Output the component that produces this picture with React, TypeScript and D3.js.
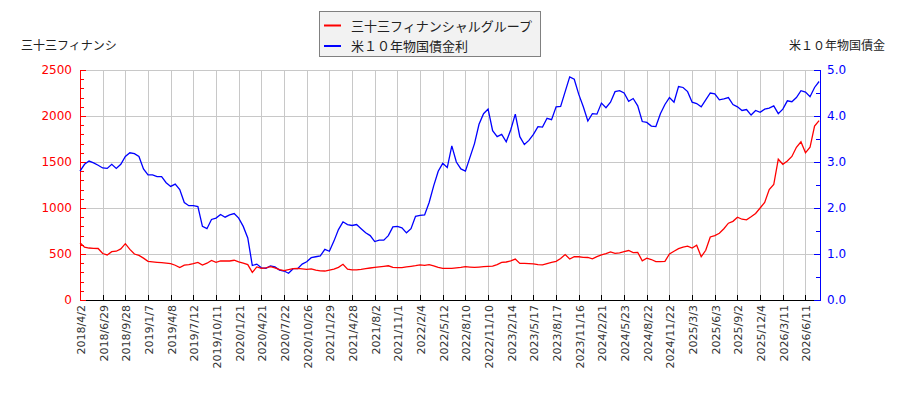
import { useEffect, useRef } from "react"
import * as d3 from "d3"

// x-axis tick labels, one every 5 samples
const tickLabels = [
  "2018/4/2", "2018/6/29", "2018/9/28", "2019/1/7", "2019/4/8", "2019/7/12",
  "2019/10/11", "2020/1/21", "2020/4/21", "2020/7/22", "2020/10/26", "2021/1/29",
  "2021/4/28", "2021/8/2", "2021/11/1", "2022/2/4", "2022/5/12", "2022/8/10",
  "2022/11/10", "2023/2/14", "2023/5/17", "2023/8/17", "2023/11/16", "2024/2/21",
  "2024/5/23", "2024/8/22", "2024/11/22", "2025/3/3", "2025/6/3", "2025/9/2",
  "2025/12/4", "2026/3/11", "2026/6/11",
]

// 三十三フィナンシャルグループ (left axis, yen)
const stockPrice = [
  623, 575, 565, 562, 560, 505, 490, 525, 530, 555,
  612, 550, 500, 485, 455, 420, 415, 410, 406, 400,
  395, 378, 352, 378, 385, 395, 408, 380, 400, 430,
  410, 425, 424, 424, 432, 415, 400, 385, 300, 360,
  345, 350, 362, 350, 330, 320, 330, 340, 344, 338,
  333, 338, 325, 316, 315, 325, 335, 355, 388, 335,
  328, 328, 333, 340, 348, 355, 360, 366, 372, 355,
  351, 352, 360, 366, 373, 382, 377, 385, 372, 355,
  344, 344, 344, 350, 355, 362, 358, 355, 358, 362,
  365, 368, 385, 408, 413, 425, 445, 398, 398, 395,
  392, 385, 382, 396, 408, 420, 450, 494, 446, 470,
  470, 464, 462, 448, 472, 490, 505, 522, 507, 512,
  525, 538, 515, 518, 425, 455, 440, 417, 417, 420,
  500, 530, 558, 575, 585, 565, 595, 470, 540, 685,
  700, 725, 775, 835, 855, 900, 878, 872, 905, 940,
  1000, 1060, 1200, 1255, 1530, 1475, 1510, 1560, 1660, 1720,
  1600, 1660, 1890, 1950,
]

// 米10年物国債金利 (right axis, %)
const bondYield = [
  2.80, 2.95, 3.02, 2.98, 2.93, 2.87, 2.86, 2.95, 2.86, 2.95,
  3.12, 3.20, 3.18, 3.12, 2.85, 2.72, 2.72, 2.68, 2.68, 2.55,
  2.47, 2.52, 2.40, 2.12, 2.05, 2.05, 2.03, 1.60, 1.55, 1.75,
  1.78, 1.86, 1.80, 1.85, 1.88, 1.78, 1.60, 1.35, 0.75, 0.78,
  0.70, 0.69, 0.74, 0.72, 0.65, 0.63, 0.58, 0.68, 0.68, 0.78,
  0.83, 0.92, 0.94, 0.96, 1.10, 1.06, 1.28, 1.53, 1.70, 1.64,
  1.62, 1.64, 1.55, 1.46, 1.40, 1.27, 1.30, 1.30, 1.40, 1.59,
  1.60, 1.57, 1.46, 1.55, 1.82, 1.84, 1.85, 2.12, 2.48, 2.80,
  2.97, 2.88, 3.35, 3.00, 2.85, 2.80, 3.10, 3.40, 3.82, 4.05,
  4.15, 3.68, 3.55, 3.60, 3.44, 3.70, 4.04, 3.55, 3.38, 3.47,
  3.60, 3.77, 3.76, 3.95, 3.92, 4.20, 4.21, 4.53, 4.85, 4.80,
  4.47, 4.20, 3.89, 4.05, 4.04, 4.28, 4.18, 4.30, 4.53, 4.55,
  4.50, 4.32, 4.38, 4.22, 3.88, 3.86, 3.78, 3.77, 4.05, 4.25,
  4.40, 4.30, 4.64, 4.62, 4.53, 4.30, 4.27, 4.20, 4.35, 4.50,
  4.48, 4.35, 4.37, 4.40, 4.25, 4.20, 4.12, 4.14, 4.02, 4.12,
  4.08, 4.15, 4.17, 4.22, 4.05, 4.15, 4.33, 4.31, 4.40, 4.55,
  4.52, 4.42, 4.62, 4.75,
]

const leftTicks = [0, 500, 1000, 1500, 2000, 2500]
const rightTicks = [0, 1, 2, 3, 4, 5]

const stockName = "三十三フィナンシャルグループ"
const bondName = "米１０年物国債金利"
const leftTitle = "三十三フィナンシ"
const rightTitle = "米１０年物国債金"

const STEP = 5
const JP = "'Noto Sans CJK JP', 'DejaVu Sans', sans-serif"
const NUM = "'DejaVu Sans', sans-serif"

export default function App() {
  const svgRef = useRef<SVGSVGElement>(null)

  useEffect(() => {
    if (!svgRef.current) return
    const svg = d3.select(svgRef.current)
    svg.selectAll("*").remove()

    const left = 80, right = 820, top = 70, bottom = 300

    const x = d3.scaleLinear().domain([0, 163.2]).range([left, right])
    const yL = d3.scaleLinear().domain([0, 2500]).range([bottom, top])
    const yR = d3.scaleLinear().domain([0, 5]).range([bottom, top])

    const g = svg.append("g").attr("shape-rendering", "crispEdges")

    // grid
    tickLabels.forEach((_, i) => {
      const xx = Math.round(x(i * STEP)) + 0.5
      g.append("line").attr("x1", xx).attr("x2", xx).attr("y1", top).attr("y2", bottom)
        .attr("stroke", "#c8c8c8")
    })
    leftTicks.forEach((v) => {
      const yy = Math.round(yL(v)) + 0.5
      g.append("line").attr("x1", left).attr("x2", right).attr("y1", yy).attr("y2", yy)
        .attr("stroke", "#c8c8c8")
    })

    // lines
    const lineL = d3.line<number>().x((_, i) => x(i)).y((d) => yL(d))
    const lineR = d3.line<number>().x((_, i) => x(i)).y((d) => yR(d))
    svg.append("path").attr("d", lineR(bondYield)).attr("fill", "none")
      .attr("stroke", "#0000ff").attr("stroke-width", 1.3)
    svg.append("path").attr("d", lineL(stockPrice)).attr("fill", "none")
      .attr("stroke", "#ff0000").attr("stroke-width", 1.3)

    // bottom axis
    g.append("line").attr("x1", left).attr("x2", right).attr("y1", bottom + 0.5).attr("y2", bottom + 0.5)
      .attr("stroke", "#000")
    tickLabels.forEach((lab, i) => {
      const xx = Math.round(x(i * STEP)) + 0.5
      g.append("line").attr("x1", xx).attr("x2", xx).attr("y1", bottom - 5).attr("y2", bottom)
        .attr("stroke", "#000")
      svg.append("text")
        .attr("transform", `translate(${xx + 4},${bottom + 5}) rotate(-90)`)
        .attr("text-anchor", "end")
        .attr("font-family", NUM)
        .attr("font-size", 11)
        .attr("fill", "#333")
        .text(lab)
    })

    // left axis
    g.append("line").attr("x1", left + 0.5).attr("x2", left + 0.5).attr("y1", top).attr("y2", bottom + 1)
      .attr("stroke", "#ff0000")
    d3.range(0, 2501, 100).forEach((v) => {
      const yy = Math.round(yL(v)) + 0.5
      const major = v % 500 === 0
      g.append("line").attr("x1", left).attr("x2", left + (major ? 6 : 4)).attr("y1", yy).attr("y2", yy)
        .attr("stroke", "#ff0000")
    })
    leftTicks.forEach((v) => {
      svg.append("text").attr("x", left - 8).attr("y", yL(v) + 4)
        .attr("text-anchor", "end").attr("font-family", NUM).attr("font-size", 12)
        .attr("fill", "#ff0000").text(v)
    })

    // right axis
    g.append("line").attr("x1", right + 0.5).attr("x2", right + 0.5).attr("y1", top).attr("y2", bottom + 1)
      .attr("stroke", "#0000ff")
    d3.range(0, 5.01, 0.5).forEach((v) => {
      const yy = Math.round(yR(v)) + 0.5
      const major = Math.abs(v - Math.round(v)) < 1e-6
      g.append("line").attr("x1", right - (major ? 6 : 4)).attr("x2", right).attr("y1", yy).attr("y2", yy)
        .attr("stroke", "#0000ff")
    })
    rightTicks.forEach((v) => {
      svg.append("text").attr("x", right + 7).attr("y", yR(v) + 4)
        .attr("font-family", NUM).attr("font-size", 12)
        .attr("fill", "#0000ff").text(v.toFixed(1))
    })

    // axis titles
    svg.append("text").attr("x", 21).attr("y", 50).attr("font-family", JP).attr("font-size", 12)
      .attr("fill", "#222").text(leftTitle)
    svg.append("text").attr("x", 885).attr("y", 50).attr("text-anchor", "end")
      .attr("font-family", JP).attr("font-size", 12).attr("fill", "#222").text(rightTitle)

    // legend
    const lg = svg.append("g")
    lg.append("rect").attr("x", 319.5).attr("y", 11.5).attr("width", 221).attr("height", 45)
      .attr("fill", "#f2f2f2").attr("stroke", "#808080")
    const entries = [
      { name: stockName, color: "#ff0000" },
      { name: bondName, color: "#0000ff" },
    ]
    entries.forEach((e, i) => {
      const yy = 25.5 + i * 20.5
      lg.append("line").attr("x1", 324).attr("x2", 341).attr("y1", yy).attr("y2", yy)
        .attr("stroke", e.color).attr("stroke-width", 2)
      lg.append("text").attr("x", 351).attr("y", yy + 5).attr("font-family", JP)
        .attr("font-size", 13).attr("fill", "#222").text(e.name)
    })
  }, [])

  return <svg ref={svgRef} width={900} height={400} style={{ display: "block", margin: "-8px" }} />
}
